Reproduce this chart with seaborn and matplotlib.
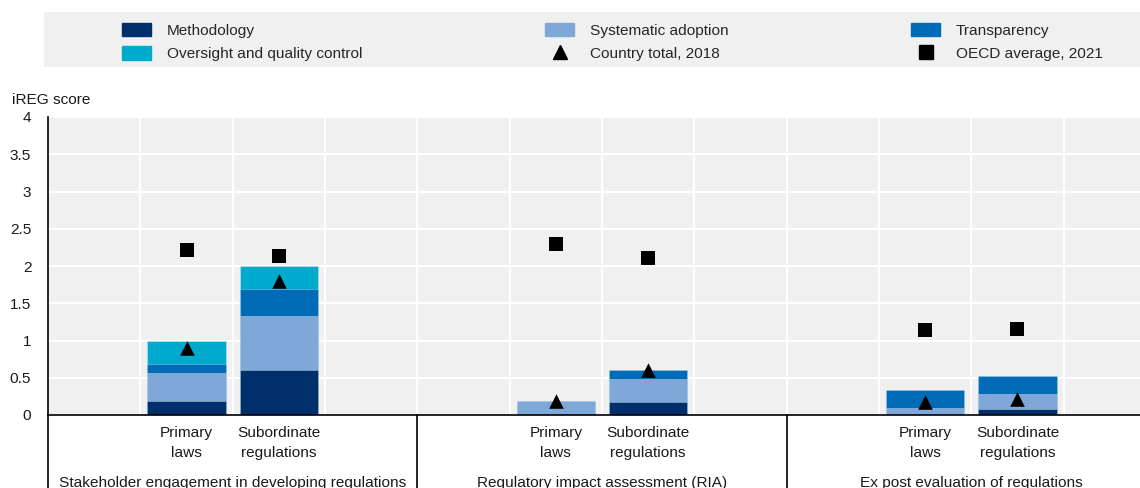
import seaborn as sns
import matplotlib.pyplot as plt
import matplotlib.transforms as mtransforms
from matplotlib.patches import Rectangle, Patch
from matplotlib.lines import Line2D

# instruments within each area, and the three areas
groups = ["Stakeholder engagement in developing regulations",
          "Regulatory impact assessment (RIA)",
          "Ex post evaluation of regulations"]
instruments = ["Primary\nlaws", "Subordinate\nregulations"]

# one value per bar: (group 1 primary, group 1 subordinate, group 2 primary, ...)
methodology = [0.19, 0.61, 0.02, 0.17, 0.00, 0.08]
systematic = [0.37, 0.72, 0.17, 0.31, 0.09, 0.20]
transparency = [0.12, 0.36, 0.00, 0.12, 0.25, 0.25]
oversight = [0.32, 0.31, 0.00, 0.00, 0.00, 0.00]
country_2018 = [0.90, 1.80, 0.19, 0.60, 0.18, 0.21]
oecd_2021 = [2.22, 2.14, 2.29, 2.11, 1.14, 1.16]

layer_names = ["Methodology", "Systematic adoption", "Transparency", "Oversight and quality control"]
layer_colors = ["#002F6C", "#7FA8D9", "#006BB6", "#00AACC"]

sns.set_theme(style="whitegrid", rc={
    "axes.facecolor": "#F0F0F0",
    "grid.color": "white",
    "grid.linewidth": 1.5,
    "axes.edgecolor": "black",
})
plt.rcParams["font.family"] = ["Liberation Sans", "DejaVu Sans"]
FS = 11.1
TXT = "#1a1a1a"

# 4 slots per group: empty, primary, subordinate, empty
xpos = []
for g in range(len(groups)):
    for i in range(len(instruments)):
        xpos.append(4 * g + 1 + i)

fig = plt.figure(figsize=(11.4, 4.88), dpi=100)
# the plot area runs a little past the right edge of the figure, as in the original
ax = fig.add_axes([48 / 1140, 1 - 415 / 488, 1108 / 1140, 298 / 488])

# stacked bars drawn as overlapping cumulative totals, top layer first
layers = [methodology, systematic, transparency, oversight]
cum = []
run = [0.0] * len(xpos)
for lay in layers:
    run = [a + b for a, b in zip(run, lay)]
    cum.append(run)
for k in range(len(layers) - 1, -1, -1):
    sns.barplot(x=xpos, y=cum[k], native_scale=True, width=0.845, color=layer_colors[k],
                saturation=1, errorbar=None, ax=ax, zorder=2,
                edgecolor=(1, 1, 1, 0.35), linewidth=0.6)

sns.scatterplot(x=xpos, y=country_2018, marker="^", s=110, color="black", linewidth=0,
                ax=ax, zorder=5, legend=False)
sns.scatterplot(x=xpos, y=oecd_2021, marker="s", s=95, color="black", linewidth=0,
                ax=ax, zorder=5, legend=False)

ax.set_xlim(-0.5, 4 * len(groups) - 0.5)
ax.set_ylim(0, 4)
yt = [i * 0.5 for i in range(9)]
ax.set_yticks(yt)
ax.set_yticklabels([f"{v:g}" for v in yt], fontsize=FS)
ax.set_xticks([k + 0.5 for k in range(-1, 4 * len(groups))], minor=True)
ax.set_xticks([])
ax.grid(True, axis="y", which="major", zorder=0)
ax.grid(True, axis="x", which="minor", zorder=0)
ax.set_axisbelow(True)
ax.tick_params(axis="y", direction="in", length=4, width=1, color="black", pad=12, labelcolor=TXT)
ax.tick_params(axis="x", which="both", length=0, labelbottom=False)
for s in ["top", "right"]:
    ax.spines[s].set_visible(False)
ax.spines["left"].set_linewidth(1.2)
ax.spines["bottom"].set_linewidth(1.2)
ax.set_xlabel("")
ax.set_ylabel("")

# category labels below the axis
trans = mtransforms.blended_transform_factory(ax.transData, ax.transAxes)
for j, x in enumerate(xpos):
    ax.text(x, -0.038, instruments[j % 2], transform=trans, ha="center", va="top",
            fontsize=FS, linespacing=1.55, color=TXT)
for g, name in enumerate(groups):
    ax.text(4 * g + 1.5, -0.2416, name, transform=trans, ha="center", va="baseline",
            fontsize=FS, color=TXT, clip_on=False)
for b in range(len(groups) + 1):
    ax.plot([4 * b - 0.5, 4 * b - 0.5], [0, -0.35], transform=trans, color="black",
            linewidth=1.2, clip_on=False)

fig.text(12 / 1140, 1 - 100 / 488, "iREG score", fontsize=FS, va="center", ha="left", color=TXT)

# legend on a grey band, three columns placed separately
fig.patches.append(Rectangle((44 / 1140, 1 - 67 / 488), 1 - 44 / 1140, 55 / 488,
                             transform=fig.transFigure, facecolor="#F0F0F0", edgecolor="none", zorder=0))
h_meth = Patch(color=layer_colors[0])
h_sys = Patch(color=layer_colors[1])
h_tr = Patch(color=layer_colors[2])
h_ov = Patch(color=layer_colors[3])
h_ct = Line2D([], [], marker="^", linestyle="none", color="black", markersize=10.5)
h_oe = Line2D([], [], marker="s", linestyle="none", color="black", markersize=10)
columns = [
    (122, [h_meth, h_ov], ["Methodology", "Oversight and quality control"]),
    (545, [h_sys, h_ct], ["Systematic adoption", "Country total, 2018"]),
    (911, [h_tr, h_oe], ["Transparency", "OECD average, 2021"]),
]
for x0, hs, ls in columns:
    fig.legend(hs, ls, ncol=1, loc="center left",
               bbox_to_anchor=(x0 / 1140, 1 - 42 / 488),
               frameon=False, fontsize=FS, borderpad=0, handlelength=1.9, handleheight=0.95,
               handletextpad=1.0, labelspacing=0.55, borderaxespad=0)

fig.savefig("out.png", dpi=100)
